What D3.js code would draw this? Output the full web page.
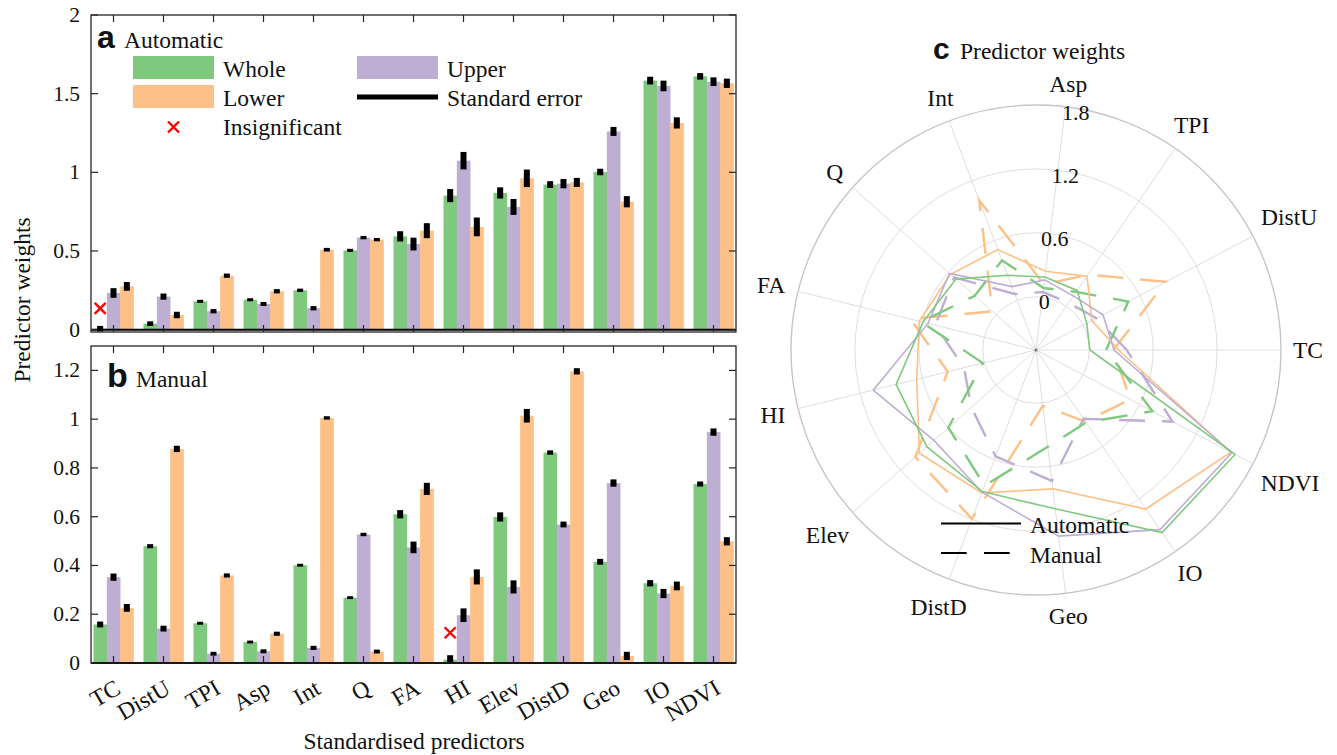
<!DOCTYPE html>
<html><head><meta charset="utf-8">
<script src="https://cdn.jsdelivr.net/npm/d3@7"></script>
<style>
html,body{margin:0;padding:0;background:#fff;}
text{font-family:"Liberation Serif","Times New Roman",serif;fill:#111;}
.bold{font-family:"Liberation Sans",Arial,sans-serif;font-weight:bold;}
</style></head>
<body>
<svg id="fig" width="1337" height="755"></svg>
<script>
// ---------- DATA ----------
const categories = ["TC","DistU","TPI","Asp","Int","Q","FA","HI","Elev","DistD","Geo","IO","NDVI"];
const seriesNames = ["Whole","Upper","Lower"];
const seriesColors = ["#7fc97f","#beaed4","#fdc086"];

// Automatic (panel a)
const autoWhole = [0.006,0.038,0.180,0.190,0.250,0.504,0.593,0.852,0.869,0.922,1.002,1.583,1.610];
const autoUpper = [0.233,0.210,0.117,0.163,0.136,0.585,0.544,1.074,0.780,0.928,1.260,1.549,1.576];
const autoLower = [0.275,0.093,0.343,0.244,0.508,0.572,0.629,0.653,0.962,0.936,0.813,1.314,1.566];
const autoWholeSE = [0.010,0.007,0.002,0.002,0.003,0.002,0.025,0.034,0.028,0.014,0.013,0.017,0.013];
const autoUpperSE = [0.023,0.012,0.006,0.005,0.006,0.003,0.033,0.048,0.043,0.022,0.021,0.026,0.020];
const autoLowerSE = [0.020,0.013,0.006,0.006,0.004,0.003,0.040,0.052,0.048,0.021,0.028,0.028,0.022];

// Manual (panel b)
const manWhole = [0.158,0.479,0.163,0.086,0.401,0.268,0.610,0.014,0.599,0.863,0.415,0.327,0.734];
const manUpper = [0.352,0.141,0.038,0.048,0.062,0.527,0.474,0.196,0.312,0.568,0.738,0.285,0.947];
const manLower = [0.226,0.878,0.359,0.120,1.005,0.047,0.714,0.353,1.014,1.196,0.029,0.316,0.499];
const manWholeSE = [0.007,0.0035,0.001,0.001,0.001,0.001,0.012,0.013,0.014,0.004,0.007,0.008,0.0055];
const manUpperSE = [0.010,0.007,0.003,0.003,0.0035,0.002,0.019,0.023,0.022,0.007,0.010,0.014,0.010];
const manLowerSE = [0.011,0.008,0.0035,0.0035,0.002,0.003,0.020,0.026,0.023,0.008,0.012,0.013,0.012];

// insignificant markers: [category, series, y position of marker]
const insigAuto = [["TC","Whole",0.135]];
const insigMan = [["HI","Whole",0.124]];

const ticksA = [0,0.5,1,1.5,2];
const ticksB = [0,0.2,0.4,0.6,0.8,1,1.2];
const radarTicks = [0,0.6,1.2,1.8];

// ---------- LAYOUT ----------
const svg = d3.select("#fig");
svg.append("rect").attr("width",1337).attr("height",755).attr("fill","#fff");

const boxL = 91, boxR = 736;
const x = d3.scaleBand().domain(categories).range([88.5,738.5]).paddingInner(0.2).paddingOuter(0.1);
const xs = d3.scaleBand().domain(seriesNames).range([0,x.bandwidth()]);

function panel(opt){
  const g = svg.append("g");
  const y = d3.scaleLinear().domain(opt.domain).range([opt.bottom,opt.top]);
  const data = [];
  categories.forEach((c,i)=>{
    opt.values.forEach((arr,s)=>{
      data.push({c, s:seriesNames[s], v:arr[i], se:opt.se[s][i], col:seriesColors[s]});
    });
  });
  // bars
  g.selectAll("rect.bar").data(data).enter().append("rect")
    .attr("x",d=>x(d.c)+xs(d.s)).attr("width",xs.bandwidth()+0.3)
    .attr("y",d=>y(d.v)).attr("height",d=>y(0)-y(d.v)).attr("fill",d=>d.col);
  // baseline
  g.append("line").attr("x1",boxL).attr("x2",boxR).attr("y1",y(0)).attr("y2",y(0))
    .attr("stroke","#000").attr("stroke-width",2);
  // ticks inward
  const tk = 7, axc = "#262626";
  categories.forEach(c=>{
    const cx = x(c)+x.bandwidth()/2;
    g.append("line").attr("x1",cx).attr("x2",cx).attr("y1",opt.bottom).attr("y2",opt.bottom-tk).attr("stroke",axc).attr("stroke-width",1.2);
    g.append("line").attr("x1",cx).attr("x2",cx).attr("y1",opt.top).attr("y2",opt.top+tk).attr("stroke",axc).attr("stroke-width",1.2);
  });
  opt.ticks.forEach(t=>{
    g.append("line").attr("x1",boxL).attr("x2",boxL+tk).attr("y1",y(t)).attr("y2",y(t)).attr("stroke",axc).attr("stroke-width",1.2);
    g.append("line").attr("x1",boxR).attr("x2",boxR-tk).attr("y1",y(t)).attr("y2",y(t)).attr("stroke",axc).attr("stroke-width",1.2);
    g.append("text").attr("x",80).attr("y",y(t)).attr("text-anchor","end").attr("dominant-baseline","central")
      .style("font-size","21.5px").text(d3.format("~g")(t));
  });
  // error bars
  g.selectAll("rect.err").data(data).enter().append("rect")
    .attr("x",d=>x(d.c)+xs(d.s)+xs.bandwidth()/2-3).attr("width",6)
    .attr("y",d=>y(d.v+d.se)-1.2).attr("height",d=>y(d.v-d.se)-y(d.v+d.se)+2.4).attr("fill","#000");
  // insignificant
  opt.insig.forEach(([c,s,v])=>{
    cross(g, x(c)+xs(s)+xs.bandwidth()/2, y(v));
  });
  // box
  g.append("rect").attr("x",boxL).attr("y",opt.top).attr("width",boxR-boxL).attr("height",opt.bottom-opt.top)
    .attr("fill","none").attr("stroke",axc).attr("stroke-width",1.3);
  return {g,y};
}
function cross(g,cx,cy){
  const h=5.5;
  g.append("path").attr("d",`M${cx-h},${cy-h}L${cx+h},${cy+h}M${cx-h},${cy+h}L${cx+h},${cy-h}`)
    .attr("stroke","#ff0000").attr("stroke-width",2.4).attr("fill","none");
}

const pa = panel({domain:[-0.015,2], top:15, bottom:332, values:[autoWhole,autoUpper,autoLower],
  se:[autoWholeSE,autoUpperSE,autoLowerSE], ticks:ticksA, insig:insigAuto});
const pb = panel({domain:[0,1.3], top:346, bottom:663, values:[manWhole,manUpper,manLower],
  se:[manWholeSE,manUpperSE,manLowerSE], ticks:ticksB, insig:insigMan});

// panel labels
const FS = "23.5px";
svg.append("text").attr("class","bold").attr("x",97).attr("y",48).style("font-size","32px").text("a");
svg.append("text").attr("x",124).attr("y",48).style("font-size",FS).text("Automatic");
svg.append("text").attr("class","bold").attr("x",107).attr("y",387).style("font-size","34px").text("b");
svg.append("text").attr("x",136).attr("y",387).style("font-size",FS).text("Manual");

// legend panel a
const leg = svg.append("g");
const legItems = [
  {type:"sw", col:seriesColors[0], x:133, y:56, label:"Whole"},
  {type:"sw", col:seriesColors[2], x:133, y:85, label:"Lower"},
  {type:"x", x:133, y:114, label:"Insignificant"},
  {type:"sw", col:seriesColors[1], x:357, y:56, label:"Upper"},
  {type:"line", x:357, y:85, label:"Standard error"}
];
legItems.forEach(it=>{
  if(it.type==="sw") leg.append("rect").attr("x",it.x).attr("y",it.y).attr("width",81).attr("height",23).attr("fill",it.col);
  else if(it.type==="line") leg.append("line").attr("x1",it.x).attr("x2",it.x+81).attr("y1",it.y+12).attr("y2",it.y+12).attr("stroke","#000").attr("stroke-width",5);
  else cross(leg, it.x+40.5, it.y+13);
  leg.append("text").attr("x",it.x+90).attr("y",it.y+21).style("font-size",FS).text(it.label);
});

// x tick labels (panel b)
categories.forEach(c=>{
  const cx = x(c)+x.bandwidth()/2;
  svg.append("text").attr("transform",`translate(${cx},${678}) rotate(-30)`)
    .attr("text-anchor","end").attr("dy","0.72em").style("font-size",FS).text(c);
});
svg.append("text").attr("x",414).attr("y",749).attr("text-anchor","middle").style("font-size",FS).text("Standardised predictors");
svg.append("text").attr("transform","translate(30,300) rotate(-90)").attr("text-anchor","middle").style("font-size",FS).text("Predictor weights");

// ---------- RADAR ----------
const cx0 = 1036, cy0 = 350, R = 245;
const r = d3.scaleLinear().domain([-0.5,1.8]).range([0,R]);
const ang = i => i*2*Math.PI/categories.length; // ccw from east
const rg = svg.append("g").attr("transform",`translate(${cx0},${cy0})`);
radarTicks.forEach((t,k)=>{
  rg.append("circle").attr("r",r(t)).attr("fill","none")
    .attr("stroke", k===radarTicks.length-1 ? "#c6c6c6" : "#dedede").attr("stroke-width", k===radarTicks.length-1?1.4:1);
});
categories.forEach((c,i)=>{
  const a = ang(i);
  rg.append("line").attr("x1",0).attr("y1",0).attr("x2",R*Math.cos(a)).attr("y2",-R*Math.sin(a))
    .attr("stroke","#dedede").attr("stroke-width",1);
});
rg.append("circle").attr("r",1.5).attr("fill","#777");

const radial = d3.lineRadial().angle((d,i)=>Math.PI/2-ang(i)).radius(d=>r(d)).curve(d3.curveLinearClosed);
const manSeries = [manWhole,manUpper,manLower];
const autoSeries = [autoWhole,autoUpper,autoLower];
[2,1,0].forEach(s=>{
  rg.append("path").attr("d",radial(manSeries[s])).attr("fill","none").attr("stroke",seriesColors[s])
    .attr("stroke-width",2.4).attr("stroke-dasharray","26,17");
});
[2,1,0].forEach(s=>{
  rg.append("path").attr("d",radial(autoSeries[s])).attr("fill","none").attr("stroke",seriesColors[s])
    .attr("stroke-width",1.6);
});
// ring labels
const la = 80.5*Math.PI/180;
radarTicks.forEach(t=>{
  const rr = r(t)-4;
  rg.append("text").attr("x",rr*Math.cos(la)).attr("y",-rr*Math.sin(la)).attr("text-anchor","middle")
    .attr("dominant-baseline","central").style("font-size","22px").text(d3.format("~g")(t));
});
// category labels
categories.forEach((c,i)=>{
  const a = ang(i);
  const t = rg.append("text").attr("text-anchor","middle").attr("dominant-baseline","central").style("font-size",FS).text(c);
  const w = t.node().getComputedTextLength(), h = 17;
  const d = R + 12 + (w/2)*Math.abs(Math.cos(a)) + (h/2)*Math.abs(Math.sin(a));
  t.attr("x",d*Math.cos(a)).attr("y",-d*Math.sin(a));
});
// radar title
svg.append("text").attr("class","bold").attr("x",933).attr("y",59).style("font-size","30px").text("c");
svg.append("text").attr("x",960).attr("y",59).style("font-size",FS).text("Predictor weights");
// radar legend
svg.append("line").attr("x1",941).attr("x2",1021).attr("y1",523.5).attr("y2",523.5).attr("stroke","#000").attr("stroke-width",2);
svg.append("text").attr("x",1030).attr("y",533).style("font-size",FS).text("Automatic");
svg.append("line").attr("x1",941).attr("x2",1010).attr("y1",553).attr("y2",553).attr("stroke","#000").attr("stroke-width",2.2).attr("stroke-dasharray","25.7,17.3");
svg.append("text").attr("x",1030).attr("y",563).style("font-size",FS).text("Manual");
</script>
</body></html>
